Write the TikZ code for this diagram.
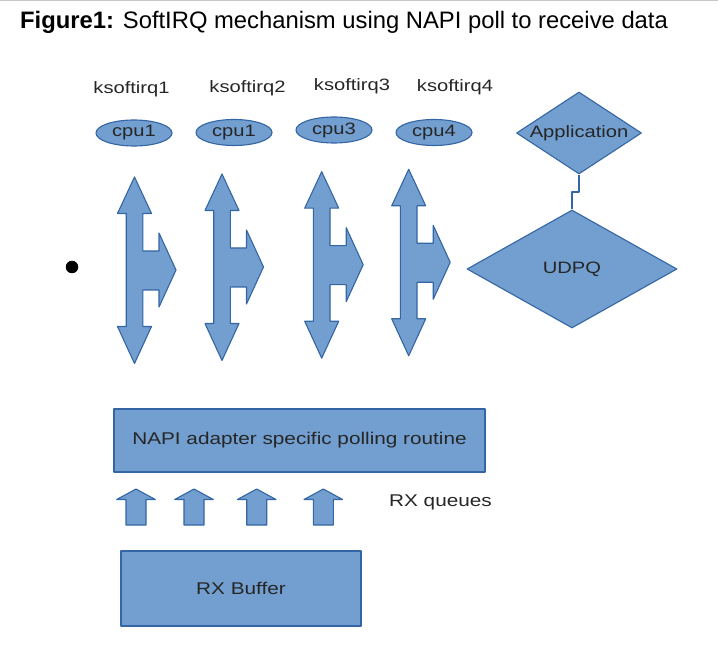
\documentclass[tikz,border=0pt]{standalone}
\usepackage{fontspec}
\setmainfont{Liberation Sans}
\newfontfamily\widesans[FakeStretch=1.22]{Liberation Sans}
\usetikzlibrary{shapes.geometric}
\definecolor{shapefill}{HTML}{729FCF}
\definecolor{shapeline}{HTML}{3465A4}

\begin{document}
\begin{tikzpicture}[x=1pt, y=-1pt, line join=round,
  lbl/.style={font=\widesans\fontsize{16.5}{18}\selectfont, text=black!85, inner sep=0pt},
  blockarrow/.style={draw=shapeline, fill=shapefill, line width=1.1pt},
  cpunode/.style={ellipse, blockarrow, minimum width=76, minimum height=26, lbl},
  qdiamond/.style={diamond, blockarrow, lbl},
  box/.style={rectangle, blockarrow, lbl, font=\widesans\fontsize{17}{19}\selectfont},
  link/.style={draw=shapeline, line width=1.4pt}]
  \useasboundingbox (0,0) rectangle (718,655);
  \draw[gray!45, line width=1.5pt] (0,0.75) -- (718,0.75);

  % title
  \node[anchor=base west, inner sep=0pt, font=\fontsize{23.8}{28}\selectfont] (title) at (20,28.3)
       {\textbf{Figure1:} SoftIRQ mechanism using NAPI poll to receive data};

  % softirq threads and their cpus
  \foreach \i/\x/\y in {1/131.5/93.5, 2/247.5/92.5, 3/352/90.5, 4/455/91.5}{
    \node[lbl, anchor=base] (ksirq\i) at (\x,\y) {ksoftirq\i};
  }
  \foreach \i/\lab/\x/\y in {1/cpu1/134/133, 2/cpu1/234/132.5, 3/cpu3/334/130, 4/cpu4/434/132.5}{
    \node[cpunode] (cpu\i) at (\x,\y) {\lab};
  }

  % double arrows with a branch to the right
  \foreach \cx/\ty in {134.5/177, 222/174, 321.7/171.7, 408.7/169.3}{
    \draw[blockarrow, shift={(\cx,\ty)}] (0,0) -- (17,36.5) -- (8.3,36.5) -- (8.3,74)
      -- (24.5,74) -- (24.5,56) -- (41.5,93) -- (24.5,130) -- (24.5,113) -- (8.3,113)
      -- (8.3,149.5) -- (17,149.5) -- (0,186.5) -- (-17,149.5) -- (-8.3,149.5)
      -- (-8.3,36.5) -- (-17,36.5) -- cycle;
  }
  \node[circle, fill=black, minimum size=12.5, inner sep=0pt] (dot) at (72,267) {};

  % application side
  \node[qdiamond, aspect=1.52, minimum width=125, minimum height=82] (app) at (579,133) {Application};
  \node[qdiamond, aspect=1.78, minimum width=210, minimum height=118] (udpq) at (572,269) {UDPQ};
  \draw[link] (app.south) -- ++(0,17.5) -| (udpq.north);

  % polling routine, rx queues and buffer
  \node[box, minimum width=371, minimum height=63] (napi) at (299.5,440.5)
       {NAPI adapter specific polling routine};
  \foreach \cx in {136, 194, 256.7, 323.3}{
    \draw[blockarrow, shift={(\cx,489)}] (0,0) -- (19.3,10.5) -- (10,10.5) -- (10,36)
      -- (-10,36) -- (-10,10.5) -- (-19.3,10.5) -- cycle;
  }
  \node[lbl, anchor=base, font=\widesans\fontsize{17}{19}\selectfont] (rxq) at (440.5,506) {RX queues};
  \node[box, minimum width=240, minimum height=75] (rxbuf) at (241,588.5) {RX Buffer};
\end{tikzpicture}
\end{document}
